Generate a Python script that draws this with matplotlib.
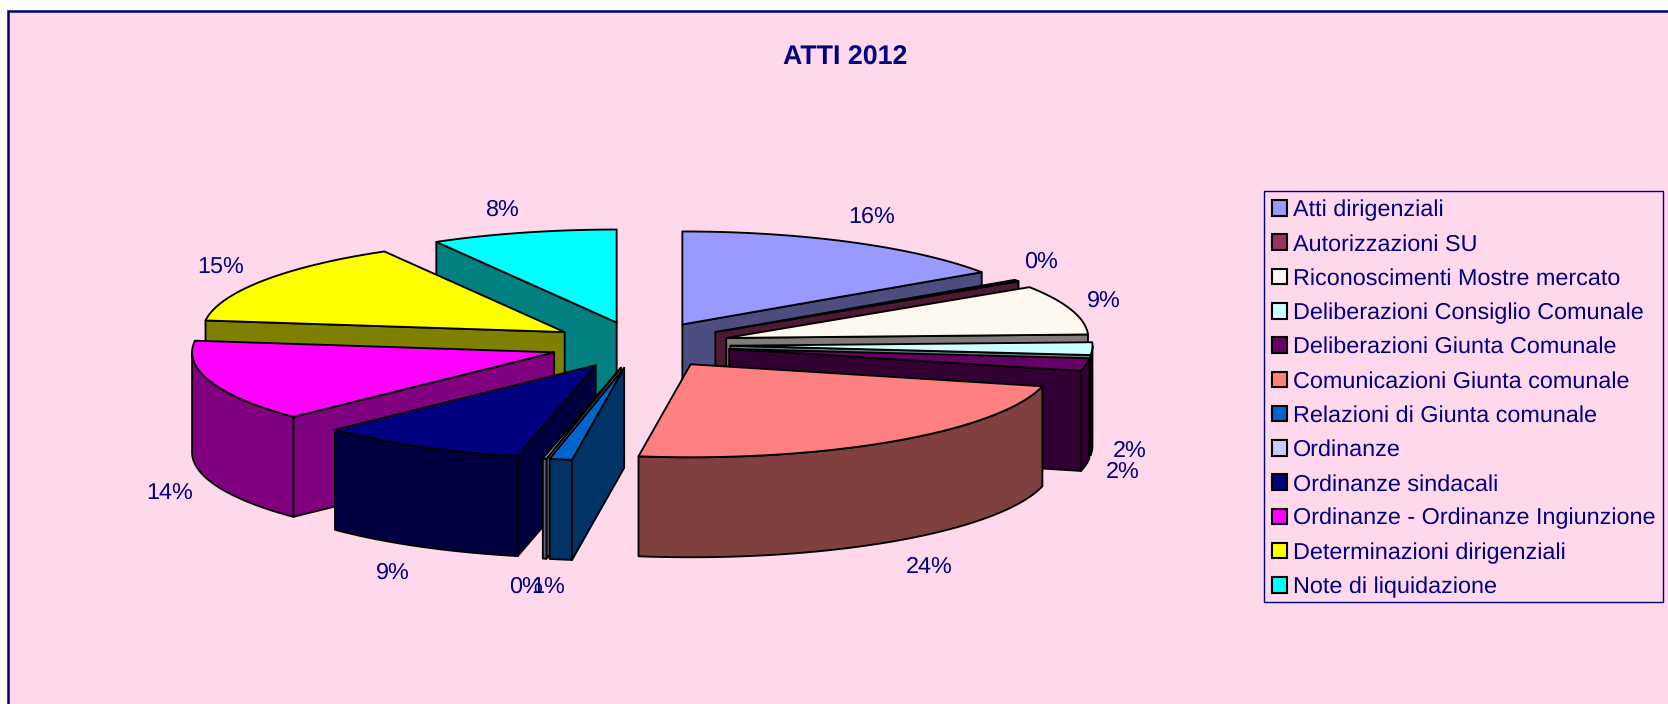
import numpy as np
import matplotlib
matplotlib.use("Agg")
import matplotlib.pyplot as plt
from matplotlib.patches import Polygon, Rectangle, Patch

plt.rcParams["text.hinting"] = "no_hinting"
plt.rcParams["text.hinting_factor"] = 8

categories = ["Atti dirigenziali", "Autorizzazioni SU", "Riconoscimenti Mostre mercato",
              "Deliberazioni Consiglio Comunale", "Deliberazioni Giunta Comunale",
              "Comunicazioni Giunta comunale", "Relazioni di Giunta comunale", "Ordinanze",
              "Ordinanze sindacali", "Ordinanze - Ordinanze Ingiunzione",
              "Determinazioni dirigenziali", "Note di liquidazione"]
shares = [15.5, 0.3, 8.6, 2.2, 2.2, 23.5, 1.0, 0.16, 9.34, 14.2, 14.7, 8.3]
top_colors = ["#9999FF", "#993366", "#FFF8F0", "#CCFFFF", "#660066", "#FF8080",
              "#0066CC", "#CCCCFF", "#000080", "#FF00FF", "#FFFF00", "#00FFFF"]
title = "ATTI 2012"

# layout, in reference pixels
W, H = 1668, 704
CX, CY, RX, RY, DEPTH, EXPLODE = 640, 345, 362, 93, 100, 0.25
label_offsets = [(20, -25), (24, -19), (33, -9), (37, 2), (37, 7), (36, 26),
                 (-13, 28), (-19, 28), (-26, 26), (-41, 12), (-43, -13), (-20, -23)]
NAVY = "#000080"
PINK = "#FFD9EB"
FONT = "Liberation Sans"
EDGE = 1.35
TEXT_SIZE = 16.85

fig = plt.figure(figsize=(W / 100, H / 100), dpi=100, facecolor="white")
ax = fig.add_axes([0, 0, 1, 1])
ax.set_xlim(0, W)
ax.set_ylim(H, 0)
ax.axis("off")
ax.add_patch(Rectangle((8, 10.5), W + 50, H + 50, facecolor=PINK, edgecolor=NAVY, lw=1.8, zorder=0))


def rim(ox, oy, deg, dz=0.0):
    t = np.radians(np.asarray(deg, dtype=float))
    return np.column_stack([ox + RX * np.sin(t), oy - RY * np.cos(t) + dz])


def arc(a, b):
    return np.linspace(a, b, max(int(abs(b - a) * 2), 2) + 1)


def shade(color):
    return tuple(0.5 * c for c in matplotlib.colors.to_rgb(color))


edges = np.concatenate([[0], np.cumsum(shares)]) / np.sum(shares) * 360
mids = (edges[:-1] + edges[1:]) / 2
order = np.argsort(-np.cos(np.radians(mids)), kind="stable")

z = 2
for i in order:
    a, b, m = edges[i], edges[i + 1], mids[i]
    ox = CX + EXPLODE * RX * np.sin(np.radians(m))
    oy = CY - EXPLODE * RY * np.cos(np.radians(m))
    wall = shade(top_colors[i])
    style = dict(edgecolor="black", lw=EDGE, joinstyle="round")
    apex = np.array([[ox, oy]])

    faces = []
    if np.cos(np.radians(a - 90)) < 0:
        faces.append(a)
    if np.cos(np.radians(b + 90)) < 0:
        faces.append(b)
    for ang in faces:
        p = rim(ox, oy, [ang])
        quad = np.vstack([apex, p, p + [0, DEPTH], apex + [0, DEPTH]])
        ax.add_patch(Polygon(quad, closed=True, facecolor=wall, zorder=z, **style))
        z += 1
    lo, hi = max(a, 90), min(b, 270)
    if hi > lo:
        t = arc(lo, hi)
        ax.add_patch(Polygon(np.vstack([rim(ox, oy, t), rim(ox, oy, t[::-1], DEPTH)]),
                             closed=True, facecolor=wall, zorder=z, **style))
        z += 1
    ax.add_patch(Polygon(np.vstack([apex, rim(ox, oy, arc(a, b))]), closed=True,
                         facecolor=top_colors[i], zorder=z, **style))
    z += 1

for i, m in enumerate(mids):
    s, c = np.sin(np.radians(m)), np.cos(np.radians(m))
    x = CX + (1 + EXPLODE) * RX * s + label_offsets[i][0]
    y = CY - (1 + EXPLODE) * RY * c + label_offsets[i][1] + (DEPTH if 90 <= m <= 270 else 0)
    pct = int(np.floor(shares[i] / sum(shares) * 100 + 0.5 + 1e-9))
    ax.text(x, y, f"{pct}%", color=NAVY, family=FONT,
            fontsize=TEXT_SIZE, ha="center", va="center", zorder=500)

ax.text(845, 57.5, title, color=NAVY, family=FONT, fontsize=19.3, fontweight="bold",
        ha="center", va="center", zorder=500)

ax.add_patch(Rectangle((1264, 191), 399, 411, facecolor="none", edgecolor=NAVY, lw=1.0, zorder=590))
handles = [Patch(facecolor=c, edgecolor="black", lw=1.5) for c in top_colors]
leg = ax.legend(handles, categories, loc="upper left", bbox_to_anchor=(1263.5, 191),
                bbox_transform=ax.transData, borderaxespad=0, frameon=False,
                prop={"family": FONT, "size": TEXT_SIZE}, labelcolor=NAVY,
                handlelength=0.645, handleheight=0.645, handletextpad=0.25,
                borderpad=0.365, labelspacing=0.548)
leg.set_zorder(600)

fig.savefig("out.png", dpi=100, facecolor="white")
